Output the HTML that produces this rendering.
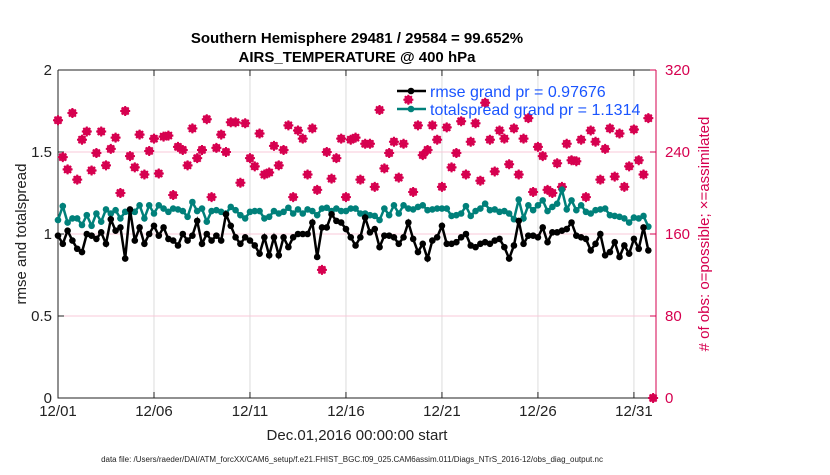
<!DOCTYPE html>
<html><head><meta charset="utf-8"><style>
body{margin:0;background:#fff;width:830px;height:470px;overflow:hidden}
svg text{font-family:"Liberation Sans",sans-serif}
</style></head><body>
<svg id="c" width="830" height="470"></svg>
<script>
const rmse=[0.99,0.94,1.02,0.96,0.91,0.89,1.0,0.99,0.97,1.01,0.94,1.09,1.02,1.04,0.85,1.15,0.96,1.04,0.94,1.0,1.05,0.99,1.04,0.97,0.96,0.93,1.0,0.96,0.99,1.08,0.94,1.0,0.96,0.99,0.96,1.12,1.05,0.98,0.94,0.98,0.96,0.93,0.88,0.98,0.87,0.98,0.87,0.98,0.92,0.98,1.0,1.0,1.0,1.07,0.86,1.04,1.04,1.12,1.08,
1.07,1.03,0.98,0.93,0.98,1.1,1.01,1.03,0.92,0.99,0.99,0.98,0.94,0.98,1.07,0.97,0.89,0.94,0.85,0.96,0.98,1.05,0.94,0.94,0.95,0.98,1.0,0.93,0.92,0.94,0.95,0.94,0.96,0.97,0.92,0.85,0.93,1.08,0.94,0.99,0.99,0.98,1.04,0.95,1.01,1.01,1.02,1.03,1.07,0.99,0.98,0.97,0.90,0.94,1.0,0.87,0.89,0.95,0.86,0.93,0.88,0.97,0.91,1.04,0.90];
const spread=[1.085,1.17,1.07,1.095,1.095,1.055,1.115,1.05,1.125,1.075,1.15,1.125,1.145,1.095,1.135,1.135,1.135,1.175,1.095,1.175,1.125,1.175,1.155,1.135,1.155,1.15,1.14,1.105,1.195,1.14,1.155,1.075,1.14,1.145,1.135,1.125,1.165,1.145,1.115,1.095,1.135,1.14,1.14,1.095,1.105,1.14,1.125,1.135,1.16,1.125,1.15,1.125,1.15,1.14,1.115,1.155,1.16,1.14,1.155,
1.14,1.14,1.155,1.155,1.125,1.125,1.115,1.11,1.085,1.155,1.115,1.175,1.125,1.175,1.155,1.15,1.165,1.175,1.145,1.15,1.155,1.155,1.155,1.11,1.115,1.125,1.17,1.11,1.14,1.155,1.185,1.145,1.15,1.135,1.14,1.125,1.09,1.21,1.095,1.175,1.145,1.175,1.205,1.14,1.165,1.185,1.27,1.15,1.205,1.145,1.175,1.135,1.125,1.145,1.15,1.155,1.115,1.11,1.105,1.095,1.07,1.10,1.095,1.11,1.045];
const obsCount=[271,235,223,278,213,252,260,222,239,260,227,243,254,200,280,236,225,257,218,241,253,219,255,256,198,245,242,227,263,234,242,272,196,244,257,240,269,269,210,268,234,226,258,218,220,246,227,242,266,196,261,253,218,263,203,125,240,214,234,
253,196,252,254,213,248,248,206,281,224,239,250,215,248,291,201,266,237,242,266,252,206,264,225,239,270,218,250,268,212,288,252,221,261,253,228,263,218,253,273,201,245,236,203,200,229,206,248,232,231,252,196,261,250,213,243,263,216,258,206,226,262,232,218,273,0];
const xTickLabels=["12/01","12/06","12/11","12/16","12/21","12/26","12/31"];
const xTickDays=[0,5,10,15,20,25,30];
const yTicks=[0,0.5,1,1.5,2];
const y2Ticks=[0,80,160,240,320];

const NS="http://www.w3.org/2000/svg",svg=document.getElementById('c');
const L=58,R=656,T=70,B=398,XMAX=31.15;
const X=d=>L+(R-L)*d/XMAX, Y=v=>B-(B-T)*v/2, Y2=v=>B-(B-T)*v/320;
function mk(t,a,p){const e=document.createElementNS(NS,t);for(const k in a)e.setAttribute(k,a[k]);(p||svg).appendChild(e);return e;}
// grid
xTickDays.forEach(d=>{const g=mk('line',{x1:X(d),x2:X(d),y1:T,y2:B,stroke:'#dcdcdc','stroke-width':1});

});
[0.5,1,1.5].forEach(v=>{const g=mk('line',{x1:L,x2:R,y1:Y(v),y2:Y(v),stroke:'#f8c8d8','stroke-width':1});

});
// axes
const ax=mk('path',{d:`M${L},${T}V${B}H${R}M${L},${T}H${R}`,stroke:'#222',fill:'none','stroke-width':1});


const rax=mk('line',{x1:R,x2:R,y1:T,y2:B,stroke:'#d6004f','stroke-width':1});


xTickDays.forEach((d,i)=>{mk('line',{x1:X(d),x2:X(d),y1:B,y2:B-6,stroke:'#222'});mk('line',{x1:X(d),x2:X(d),y1:T,y2:T+6,stroke:'#222'});
const t=mk('text',{x:X(d),y:B+18,'text-anchor':'middle','font-size':15,fill:'#222'});t.textContent=xTickLabels[i];

});
yTicks.forEach(v=>{mk('line',{x1:L,x2:L+6,y1:Y(v),y2:Y(v),stroke:'#222'});
const t=mk('text',{x:L-6,y:Y(v)+5,'text-anchor':'end','font-size':15,fill:'#222'});t.textContent=String(v);

});
y2Ticks.forEach(v=>{mk('line',{x1:R,x2:R-6,y1:Y2(v),y2:Y2(v),stroke:'#d6004f'});
const t=mk('text',{x:R+9,y:Y2(v)+5,'font-size':15,fill:'#d6004f'});t.textContent=String(v);

});
// obs markers
obsCount.forEach((c,i)=>{const x=X(i*0.25),y=Y2(c);
const g=mk('g',{});


mk('circle',{cx:x,cy:y,r:3.5,fill:'none',stroke:'#d6004f','stroke-width':1.3},g);
mk('path',{d:`M${x-5},${y}H${x+5}M${x},${y-5}V${y+5}M${x-3.5},${y-3.5}L${x+3.5},${y+3.5}M${x-3.5},${y+3.5}L${x+3.5},${y-3.5}`,stroke:'#d6004f','stroke-width':2},g);});
function series(arr,col,name){const p=mk('polyline',{points:arr.map((v,i)=>X(i*0.25)+','+Y(v)).join(' '),fill:'none',stroke:col,'stroke-width':2.5});


arr.forEach((v,i)=>{const c=mk('circle',{cx:X(i*0.25),cy:Y(v),r:3.3,fill:col});

});}
series(spread,'#00807a','totalspread');
series(rmse,'#000','rmse');
</script>
<svg width="830" height="470" style="position:absolute;left:0;top:0">
<text x="357" y="43" text-anchor="middle" font-size="15" font-weight="bold" fill="#000">Southern Hemisphere 29481 / 29584 = 99.652%</text>
<text x="357" y="62" text-anchor="middle" font-size="15" font-weight="bold" fill="#000">AIRS_TEMPERATURE @ 400 hPa</text>
<text x="357" y="440" text-anchor="middle" font-size="15" fill="#222">Dec.01,2016 00:00:00 start</text>
<text x="26" y="234" text-anchor="middle" font-size="15" fill="#222" transform="rotate(-90 26 234)">rmse and totalspread</text>
<text x="709" y="234" text-anchor="middle" font-size="15" fill="#d6004f" transform="rotate(-90 709 234)"># of obs: o=possible; ×=assimilated</text>
<text x="352" y="462" text-anchor="middle" font-size="8" fill="#222">data file: /Users/raeder/DAI/ATM_forcXX/CAM6_setup/f.e21.FHIST_BGC.f09_025.CAM6assim.011/Diags_NTrS_2016-12/obs_diag_output.nc</text>
<g>
<line x1="397" x2="426" y1="91" y2="91" stroke="#000" stroke-width="2.5"/><circle cx="411" cy="91" r="3.3" fill="#000"/>
<text x="430" y="97" font-size="16" fill="#1a55ff">rmse grand pr = 0.97676</text>
<line x1="397" x2="426" y1="109" y2="109" stroke="#00807a" stroke-width="2.5"/><circle cx="411" cy="109" r="3.3" fill="#00807a"/>
<text x="430" y="115" font-size="16" fill="#1a55ff">totalspread grand pr = 1.1314</text>
</g>
</svg>
</body></html>
